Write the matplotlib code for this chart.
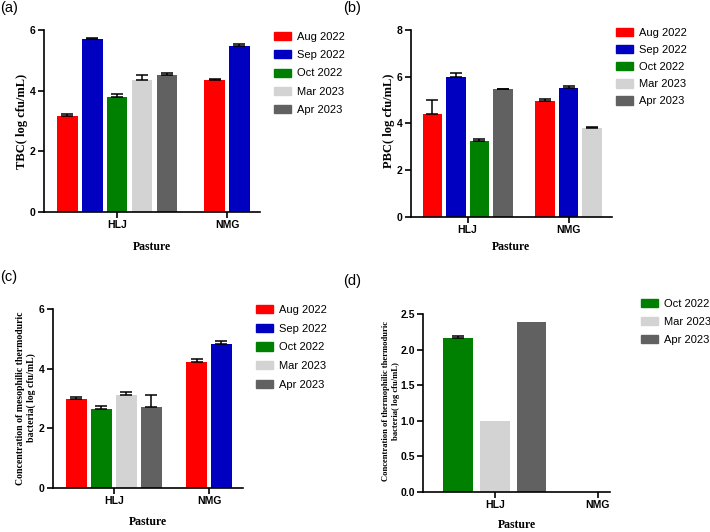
import matplotlib
matplotlib.use("Agg")
import matplotlib.pyplot as plt
import matplotlib.patches as mpatches

# ---- data ----
months = ["Aug 2022", "Sep 2022", "Oct 2022", "Mar 2023", "Apr 2023"]
colors = ["#ff0000", "#0000c0", "#008000", "#d3d3d3", "#616161"]
pastures = ["HLJ", "NMG"]

# (a) TBC
tbc_hlj = [3.17, 5.70, 3.80, 4.35, 4.53]
tbc_hlj_err = [0.06, 0.05, 0.08, 0.18, 0.04]
tbc_nmg = [4.34, 5.46, None, None, None]
tbc_nmg_err = [0.03, 0.07, None, None, None]

# (b) PBC
pbc_hlj = [4.39, 5.99, 3.26, None, 5.46]
pbc_hlj_err = [0.60, 0.17, 0.05, None, 0.03]
pbc_nmg = [4.95, 5.50, None, 3.81, None]
pbc_nmg_err = [0.08, 0.08, None, 0.05, None]

# (c) mesophilic thermoduric bacteria
meso_hlj = [2.97, None, 2.64, 3.11, 2.72]
meso_hlj_err = [0.08, None, 0.11, 0.11, 0.40]
meso_nmg = [4.24, 4.84, None, None, None]
meso_nmg_err = [0.10, 0.08, None, None, None]

# (d) thermophilic thermoduric bacteria
thermo_hlj = [None, None, 2.17, 1.00, 2.39]
thermo_hlj_err = [None, None, 0.02, 0.0, 0.0]
thermo_nmg = [None, None, None, None, None]
thermo_nmg_err = [None, None, None, None, None]

W, H = 710, 532
fig = plt.figure(figsize=(W / 100, H / 100), dpi=100)

SERIF = "Liberation Serif"
SANS = "Liberation Sans"


def px_axes(left, right, top, bottom):
    return fig.add_axes([left / W, 1 - bottom / H, (right - left) / W, (bottom - top) / H])


def px_text(x, y, s, **kw):
    return fig.text(x / W, 1 - y / H, s, **kw)


def draw_groups(ax, groups, errs, step, width):
    for g, (vals, ev) in enumerate(zip(groups, errs)):
        idx = [i for i, v in enumerate(vals) if v is not None]
        n = len(idx)
        for k, i in enumerate(idx):
            x = g + (k - (n - 1) / 2) * step
            ax.bar(x, vals[i], width=width, color=colors[i], zorder=2)
            if ev[i]:
                ax.errorbar(x, vals[i], yerr=[[0], [ev[i]]], color="black",
                            capsize=4, elinewidth=1.1, capthick=1.1, zorder=3)


def style(ax, xlim, ylim, yticks, ticklabels=None):
    ax.set_xlim(*xlim)
    ax.set_ylim(*ylim)
    ax.set_yticks(yticks)
    if ticklabels is not None:
        ax.set_yticklabels(ticklabels)
    ax.set_xticks([0, 1])
    ax.set_xticklabels(pastures)
    for s in ["top", "right"]:
        ax.spines[s].set_visible(False)
    for s in ["left", "bottom"]:
        ax.spines[s].set_linewidth(1.2)
    ax.tick_params(width=1.2, length=4, labelsize=7.5, pad=2)
    for lab in ax.get_xticklabels() + ax.get_yticklabels():
        lab.set_fontweight("bold")
        lab.set_family(SANS)


def labels(xl_x, xl_y, yl_x, yl_y, ylabel, ysize):
    px_text(xl_x, xl_y, "Pasture", family=SERIF, fontweight="bold", fontsize=8.5,
            ha="center", va="center")
    px_text(yl_x, yl_y, ylabel, family=SERIF, fontweight="bold", fontsize=ysize,
            ha="center", va="center", rotation=90, linespacing=1.3,
            multialignment="center")


def legend(ax, idx, x, y, spacing):
    handles = [mpatches.Patch(color=colors[i], label=months[i]) for i in idx]
    ax.legend(handles=handles, loc="upper left", bbox_to_anchor=(x / W, 1 - y / H),
              bbox_transform=fig.transFigure, frameon=False,
              prop={"family": SANS, "size": 8}, handlelength=1.5, handleheight=0.75,
              handletextpad=0.6, labelspacing=spacing, borderaxespad=0, borderpad=0)


# (a)
ax = px_axes(44, 260, 30, 212)
draw_groups(ax, [tbc_hlj, tbc_nmg], [tbc_hlj_err, tbc_nmg_err], 0.227, 0.19)
style(ax, (-0.664, 1.30), (0, 6), [0, 2, 4, 6])
labels(152, 247, 22, 121, "TBC( log cfu/mL)", 9)
legend(ax, range(5), 274, 32, 0.74)

# (b)
ax = px_axes(411, 612, 30, 216.7)
draw_groups(ax, [pbc_hlj, pbc_nmg], [pbc_hlj_err, pbc_nmg_err], 0.233, 0.193)
style(ax, (-0.56, 1.43), (0, 8), [0, 2, 4, 6, 8])
labels(511, 247, 389, 121, "PBC( log cfu/mL)", 9)
legend(ax, range(5), 616, 28, 0.64)

# (c)
ax = px_axes(53, 243, 309.3, 487.7)
draw_groups(ax, [meso_hlj, meso_nmg], [meso_hlj_err, meso_nmg_err], 0.262, 0.22)
style(ax, (-0.637, 1.357), (0, 6), [0, 2, 4, 6])
labels(148, 522, 26, 398,
       "Concentration of mesophilic thermoduric\nbacteria( log cfu/mL)", 7)
legend(ax, range(5), 256, 305, 0.78)

# (d)
ax = px_axes(423, 610, 314.3, 491.7)
draw_groups(ax, [thermo_hlj, thermo_nmg], [thermo_hlj_err, thermo_nmg_err], 0.356, 0.29)
style(ax, (-0.70, 1.12), (0, 2.5), [0, 0.5, 1.0, 1.5, 2.0, 2.5],
      ["0.0", "0.5", "1.0", "1.5", "2.0", "2.5"])
labels(517, 525, 391, 401,
       "Concentration of thermophilic thermoduric\nbacteria( log cfu/mL)", 6.2)
legend(ax, [2, 3, 4], 641, 299, 0.7)

# panel letters
for lab, x, y in [("(a)", 0, 1), ("(b)", 343, 1), ("(c)", 0, 270), ("(d)", 343, 274)]:
    px_text(x, y, lab, family=SANS, fontsize=10.5, va="top", ha="left")

fig.savefig("out.png", dpi=100)
